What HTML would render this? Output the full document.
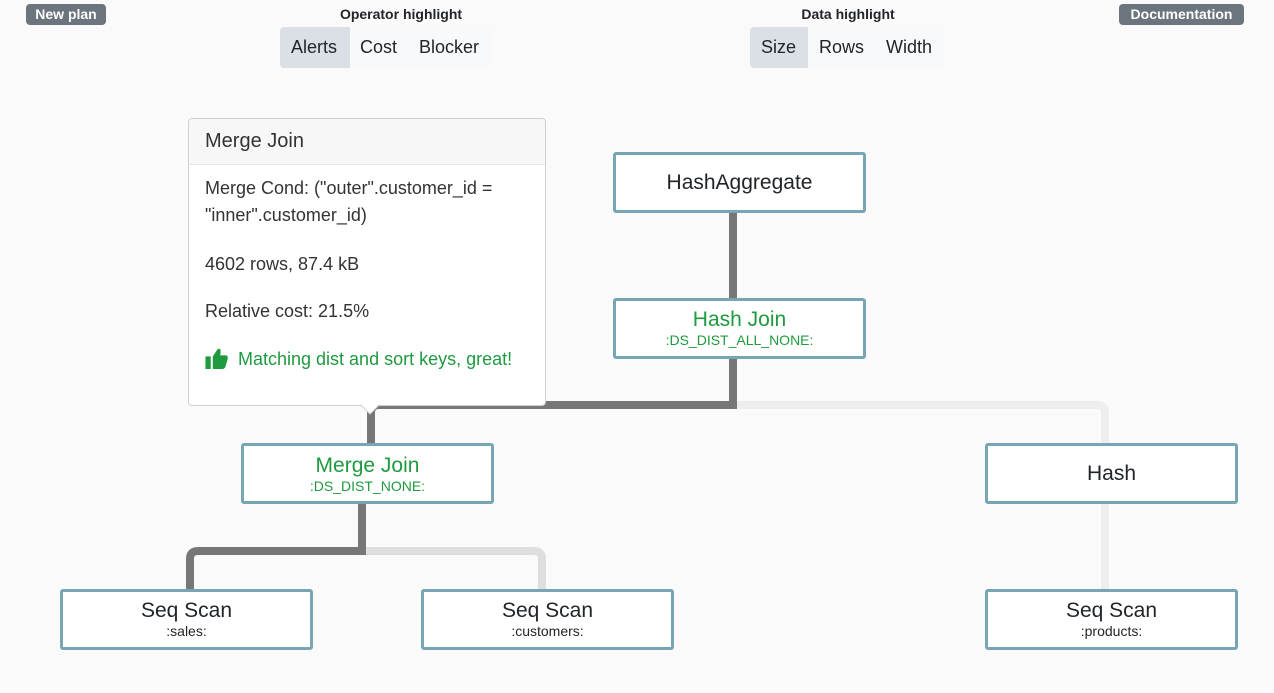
<!DOCTYPE html>
<html><head><style>
body{margin:0;width:1274px;height:693px;background:#fafafa;font-family:"Liberation Sans",sans-serif;position:relative;overflow:hidden;color:#212529}
.abs{position:absolute}
.badge{background:#6c757d;color:#fff;font-weight:bold;font-size:14px;border-radius:4px;height:21px;line-height:21px;text-align:center}
.lbl{font-weight:bold;font-size:14px;text-align:center}
.grp{display:flex;background:#f8f9fa;border-radius:4px;height:41px}
.grp div{font-size:18px;line-height:41px;padding:0 11px}
.grp .on{background:#dae0e5;border-radius:4px 0 0 4px}
.node{position:absolute;width:247px;height:55px;border:3px solid #78a5b3;border-radius:3px;background:#fff;text-align:center;box-sizing:content-box}
.node .t{font-size:21px}
.node .s{font-size:14px}
.g{color:#1f9a3f}
</style></head><body>
<div class="abs badge" style="left:26px;top:4px;width:80px">New plan</div>
<div class="abs badge" style="left:1119px;top:4px;width:125px">Documentation</div>
<div class="abs lbl" style="left:300px;top:6px;width:202px">Operator highlight</div>
<div class="abs grp" style="left:280px;top:27px;width:212px"><div class="on" style="width:48px">Alerts</div><div style="padding:0 0 0 10px;width:48px">Cost</div><div>Blocker</div></div>
<div class="abs lbl" style="left:748px;top:6px;width:200px">Data highlight</div>
<div class="abs grp" style="left:750px;top:27px;width:195px"><div class="on" style="width:36px">Size</div><div>Rows</div><div>Width</div></div>

<svg class="abs" style="left:0;top:0" width="1274" height="693">
<g fill="none" stroke-width="8">
<path d="M1105 589V503" stroke="#eeeeee"/>
<path d="M735 405H1097Q1105 405 1105 413V443" stroke="#eeeeee"/>
<path d="M362 551H534Q542 551 542 559V589" stroke="#dedede"/>
<path d="M733 213V298M733 358V405H379Q371 405 371 413V443" stroke="#777"/>
<path d="M362 503V551H198Q190 551 190 559V589" stroke="#777"/>
</g>
</svg>

<div class="node" style="left:613px;top:152px;line-height:55px"><span class="t">HashAggregate</span></div>
<div class="node" style="left:613px;top:298px"><div class="t g" style="margin-top:7px">Hash Join</div><div class="s g">:DS_DIST_ALL_NONE:</div></div>
<div class="node" style="left:241px;top:443px"><div class="t g" style="margin-top:8px">Merge Join</div><div class="s g">:DS_DIST_NONE:</div></div>
<div class="node" style="left:985px;top:443px;line-height:55px"><span class="t">Hash</span></div>
<div class="node" style="left:60px;top:589px"><div class="t" style="margin-top:7px">Seq Scan</div><div class="s">:sales:</div></div>
<div class="node" style="left:421px;top:589px"><div class="t" style="margin-top:7px">Seq Scan</div><div class="s">:customers:</div></div>
<div class="node" style="left:985px;top:589px"><div class="t" style="margin-top:7px">Seq Scan</div><div class="s">:products:</div></div>

<div class="abs" style="left:188px;top:118px;width:356px;height:286px;background:#fff;border:1px solid #d0d0d0;border-radius:4px;color:#333">
<div style="height:45px;background:#f7f7f7;border-bottom:1px solid #e8e8e8;border-radius:4px 4px 0 0;font-size:20px;line-height:45px;padding-left:16px">Merge Join</div>
<div style="padding:10px 16px 0;font-size:18px;line-height:27px">Merge Cond: ("outer".customer_id =<br>"inner".customer_id)</div>
<div style="padding:22px 16px 0;font-size:18px;line-height:27px">4602 rows, 87.4 kB</div>
<div style="padding:20px 16px 0;font-size:18px;line-height:27px">Relative cost: 21.5%</div>
<div class="g" style="padding:21px 16px 0;font-size:18px;line-height:27px"><svg width="24" height="21" viewBox="0 0 22 20" style="vertical-align:-4px;margin-right:9px"><rect x="0" y="8" width="5" height="12" fill="#1f9a3f"/><path d="M7 8L11 2Q12 0 14 1Q15 3 14 7H20Q22 8 21 11L19 18Q18 20 16 20H7Z" fill="#1f9a3f"/></svg>Matching dist and sort keys, great!</div>
</div>
<svg class="abs" style="left:360px;top:403px" width="22" height="12"><path d="M0 1L10 11L20 1" fill="#fff" stroke="#d0d0d0"/><rect x="0" y="0" width="22" height="1.5" fill="#fff"/></svg>
</body></html>
